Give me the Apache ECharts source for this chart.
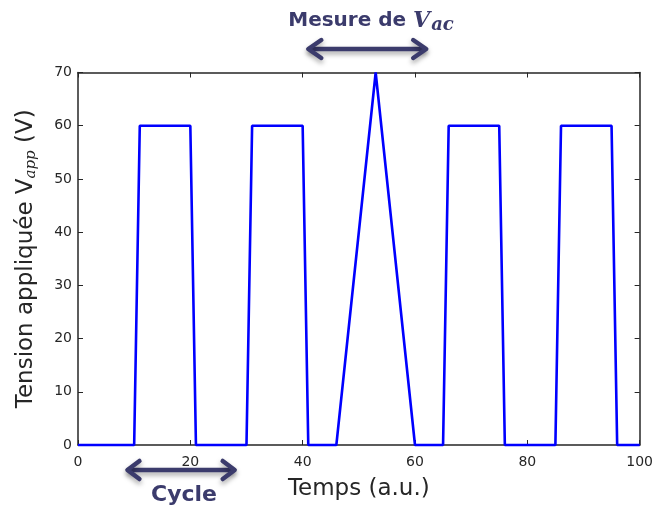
<!DOCTYPE html>
<html>
<head>
<meta charset="utf-8">
<script src="https://cdn.jsdelivr.net/npm/echarts@6/dist/echarts.min.js"></script>
<style>
html,body{margin:0;padding:0;background:#fff;}
#chart{width:656px;height:510px;}
</style>
</head>
<body>
<div id="chart"></div>
<script>
// Data
const timePoints = [0, 10, 11, 20, 21, 30, 31, 40, 41, 46, 53, 60, 65, 66, 75, 76, 85, 86, 95, 96, 100];
const voltage    = [0,  0, 60, 60,  0,  0, 60, 60,  0,  0, 70,  0,  0, 60, 60,  0,  0, 60, 60,  0,   0];
const xTicks = [0, 20, 40, 60, 80, 100];
const yTicks = [0, 10, 20, 30, 40, 50, 60, 70];
const measureSpan = [41, 62];   // "Mesure de V_ac" arrow, in time units
const cycleSpan = [8.8, 27.9];  // "Cycle" arrow, in time units

const seriesData = timePoints.map((t, i) => [t, voltage[i]]);
const chart = echarts.init(document.getElementById('chart'));
const tickFont = {fontFamily: 'DejaVu Sans', fontSize: 14, color: '#262626'};
const navy = '#3b3b6c';

function axisBase(extra) {
  return Object.assign({
    axisLine: {show: true, onZero: false, lineStyle: {color: '#262626', width: 1.5}},
    axisTick: {show: true, inside: true, length: 5, lineStyle: {color: '#262626'}},
    splitLine: {show: false}
  }, extra);
}

chart.setOption({
  animation: false,
  grid: {left: 78, right: 16, top: 72.5, bottom: 65},
  xAxis: [
    axisBase({
      type: 'value', min: xTicks[0], max: xTicks[xTicks.length - 1], interval: 20,
      axisLabel: Object.assign({margin: 10}, tickFont),
      name: 'Temps (a.u.)', nameLocation: 'middle', nameGap: 33,
      nameTextStyle: {fontFamily: 'DejaVu Sans', fontSize: 23, color: '#262626'}
    }),
    axisBase({
      type: 'value', min: xTicks[0], max: xTicks[xTicks.length - 1], interval: 20, position: 'top',
      axisLabel: {show: false}
    })
  ],
  yAxis: [
    axisBase({
      type: 'value', min: yTicks[0], max: yTicks[yTicks.length - 1], interval: 10,
      axisLabel: Object.assign({margin: 6}, tickFont),
      name: '{a|Tension appliquée }{v|V}{s|app}{a| (V)}',
      nameLocation: 'middle', nameGap: 39, nameRotate: 90,
      nameTextStyle: {
        rich: {
          a: {fontFamily: 'DejaVu Sans', fontSize: 23, color: '#262626'},
          v: {fontFamily: 'DejaVu Sans', fontSize: 23, color: '#262626'},
          s: {fontFamily: 'DejaVu Serif', fontStyle: 'italic', fontSize: 15, color: '#262626', padding: [10, 0, 0, 0]}
        }
      }
    }),
    axisBase({
      type: 'value', min: yTicks[0], max: yTicks[yTicks.length - 1], interval: 10, position: 'right',
      axisLabel: {show: false}
    })
  ],
  series: [{
    type: 'line',
    data: seriesData,
    showSymbol: false,
    lineStyle: {color: '#0000ff', width: 2.6},
    itemStyle: {color: '#0000ff'},
    clip: false,
    z: 5
  }]
});

function arrow(x1, x2, y, h, v) {
  const style = {stroke: navy, lineWidth: 4.5, lineCap: 'round', lineJoin: 'round', fill: null,
    shadowBlur: 5, shadowColor: 'rgba(0,0,0,0.35)', shadowOffsetY: 3};
  return [
    {type: 'line', shape: {x1: x1 + 2, y1: y, x2: x2 - 2, y2: y}, style: style},
    {type: 'polyline', shape: {points: [[x1 + h, y - v], [x1, y], [x1 + h, y + v]]}, style: style},
    {type: 'polyline', shape: {points: [[x2 - h, y - v], [x2, y], [x2 - h, y + v]]}, style: style}
  ];
}

const m1 = chart.convertToPixel({xAxisIndex: 0}, measureSpan[0]);
const m2 = chart.convertToPixel({xAxisIndex: 0}, measureSpan[1]);
const c1 = chart.convertToPixel({xAxisIndex: 0}, cycleSpan[0]);
const c2 = chart.convertToPixel({xAxisIndex: 0}, cycleSpan[1]);

const elements = [].concat(
  arrow(m1, m2, 49, 13, 9),
  arrow(c1, c2, 470, 12, 9),
  [
    {type: 'text', x: 371, y: 21, style: {
      text: '{a|Mesure de }{v|V}{s|ac}', align: 'center', verticalAlign: 'middle',
      rich: {
        a: {fontFamily: 'DejaVu Sans', fontWeight: 'bold', fontSize: 20, fill: navy},
        v: {fontFamily: 'DejaVu Serif', fontStyle: 'italic', fontWeight: 'bold', fontSize: 22, fill: navy},
        s: {fontFamily: 'DejaVu Serif', fontStyle: 'italic', fontWeight: 'bold', fontSize: 18, fill: navy, padding: [9, 0, 0, 1]}
      }
    }},
    {type: 'text', x: 184, y: 495, style: {
      text: 'Cycle', align: 'center', verticalAlign: 'middle',
      fontFamily: 'DejaVu Sans', fontWeight: 'bold', fontSize: 22, fill: navy
    }}
  ]
);
chart.setOption({graphic: {elements: elements}});
</script>
</body>
</html>
